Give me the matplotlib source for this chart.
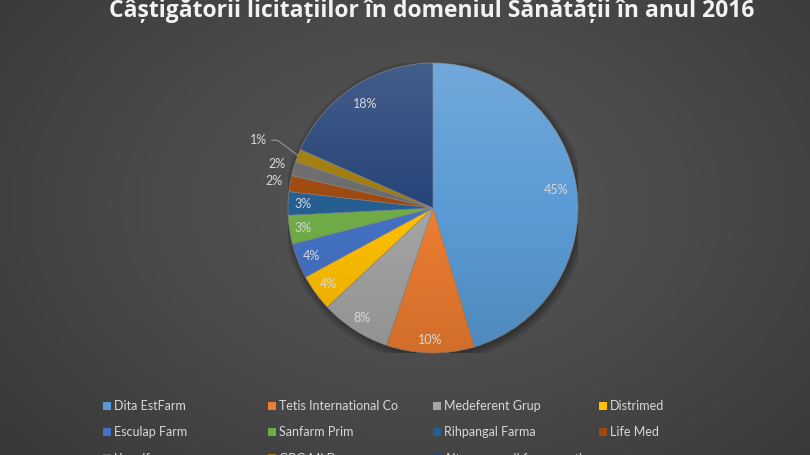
import numpy as np
import matplotlib.pyplot as plt
from matplotlib.patches import Circle, Rectangle
from matplotlib.colors import LinearSegmentedColormap

# data (percent of total)
companies = ['Dita EstFarm', 'Tetis International Co', 'Medeferent Grup', 'Distrimed',
             'Esculap Farm', 'Sanfarm Prim', 'Rihpangal Farma', 'Life Med',
             'Linealfarm', 'GBG MLD', 'Alte companii farmaceutice']
shares = [45.4, 9.8, 7.8, 4.1, 3.9, 3.2, 2.6, 1.8, 1.6, 1.4, 18.4]
title = 'Câștigătorii licitațiilor în domeniul Sănătății în anul 2016'

# styling
colors = ['#5B9BD5', '#ED7D31', '#A5A5A5', '#FFC000', '#4472C4', '#70AD47',
          '#255E91', '#9E480E', '#6A6A6A', '#A07A08', '#264478']
label_dist = [0.86, 0.91, 0.90, 0.89, 0.90, 0.91, 0.90, 1.11, 1.12, 1.29, 0.86]
text_col = '#d9d9d9'
W, H = 810, 455

fig = plt.figure(figsize=(W / 100, H / 100), dpi=100)

# radial grey background
bg = fig.add_axes([0, 0, 1, 1])
yy, xx = np.mgrid[0:H, 0:W]
rr = np.sqrt(((xx - W * 0.52) / (W * 0.6)) ** 2 + ((yy - H * 0.45) / (H * 0.75)) ** 2)
bg_cmap = LinearSegmentedColormap.from_list('bg', ['#575757', '#4a4a4a', '#393939'])
bg.imshow(rr, cmap=bg_cmap, vmin=0, vmax=1.1, aspect='auto', extent=[0, 1, 0, 1])
bg.set_axis_off()

# pie axes placed in pixels: centre (433, 208), radius 145
cx, cy, R = 433, 208, 145
ax = fig.add_axes([(cx - R) / W, (H - cy - R) / H, 2 * R / W, 2 * R / H])
ax.set_xlim(-1, 1)
ax.set_ylim(-1, 1)
ax.set_axis_off()

# soft shadow
for i in range(5):
    ax.add_patch(Circle((0.012, -0.018), 1.0 + 0.012 * i, color='black',
                        alpha=0.07, lw=0, zorder=0))

wedges, _ = ax.pie(shares, colors=colors, startangle=90, counterclock=False,
                   radius=1, wedgeprops=dict(edgecolor='#8a8a8a', linewidth=0.4))
for w in wedges:
    w.set_zorder(1)

# vertical light-to-dark sheen over the pie
t = np.linspace(0, 1, 200)
sheen = np.zeros((200, 2, 4))
sheen[:, :, :3] = np.where(t < 0.5, 1.0, 0.0)[:, None, None]
sheen[:, :, 3] = np.where(t < 0.5, 0.14 * (1 - 2 * t), 0.12 * (2 * t - 1))[:, None]
img = ax.imshow(sheen, extent=[-1, 1, -1, 1], aspect='auto', zorder=2,
                interpolation='bilinear')
img.set_clip_path(Circle((0, 0), 1, transform=ax.transData))
ax.set_xlim(-1, 1)
ax.set_ylim(-1, 1)

# percentage labels
for i, w in enumerate(wedges):
    theta = np.deg2rad((w.theta1 + w.theta2) / 2)
    d = label_dist[i]
    tx, ty = d * np.cos(theta), d * np.sin(theta)
    ax.text(tx, ty, f'{shares[i]:.0f}%', ha='center', va='center', color=text_col,
            fontsize=9, family='Lato', zorder=5, clip_on=False)
    if d > 1.2:
        ex, ey = np.cos(theta), np.sin(theta)
        ax.plot([tx + 0.09, tx + 0.13, ex], [ty, ty, ey], color='#a0a0a0',
                lw=0.7, zorder=5, clip_on=False)

# title (cut at the top as in the source)
fig.text(432 / W, 1 - 17 / H, title, ha='center', va='baseline', color='#f2f2f2',
         fontsize=16.5, fontweight='bold', family='Open Sans')

# legend: 4 equal-width columns
col_x = [103, 268, 433, 599]
for c in range(4):
    idx = list(range(c, len(companies), 4))
    handles = [Rectangle((0, 0), 1, 1, facecolor=colors[k]) for k in idx]
    fig.legend(handles, [companies[k] for k in idx], loc='upper left',
               bbox_to_anchor=(col_x[c] / W, 1 - 400 / H), frameon=False,
               prop=dict(family='Lato', size=9), labelcolor=text_col,
               handlelength=0.6, handleheight=0.6, handletextpad=0.3,
               labelspacing=1.15, borderpad=0, borderaxespad=0)

fig.savefig('out.png', dpi=100)
